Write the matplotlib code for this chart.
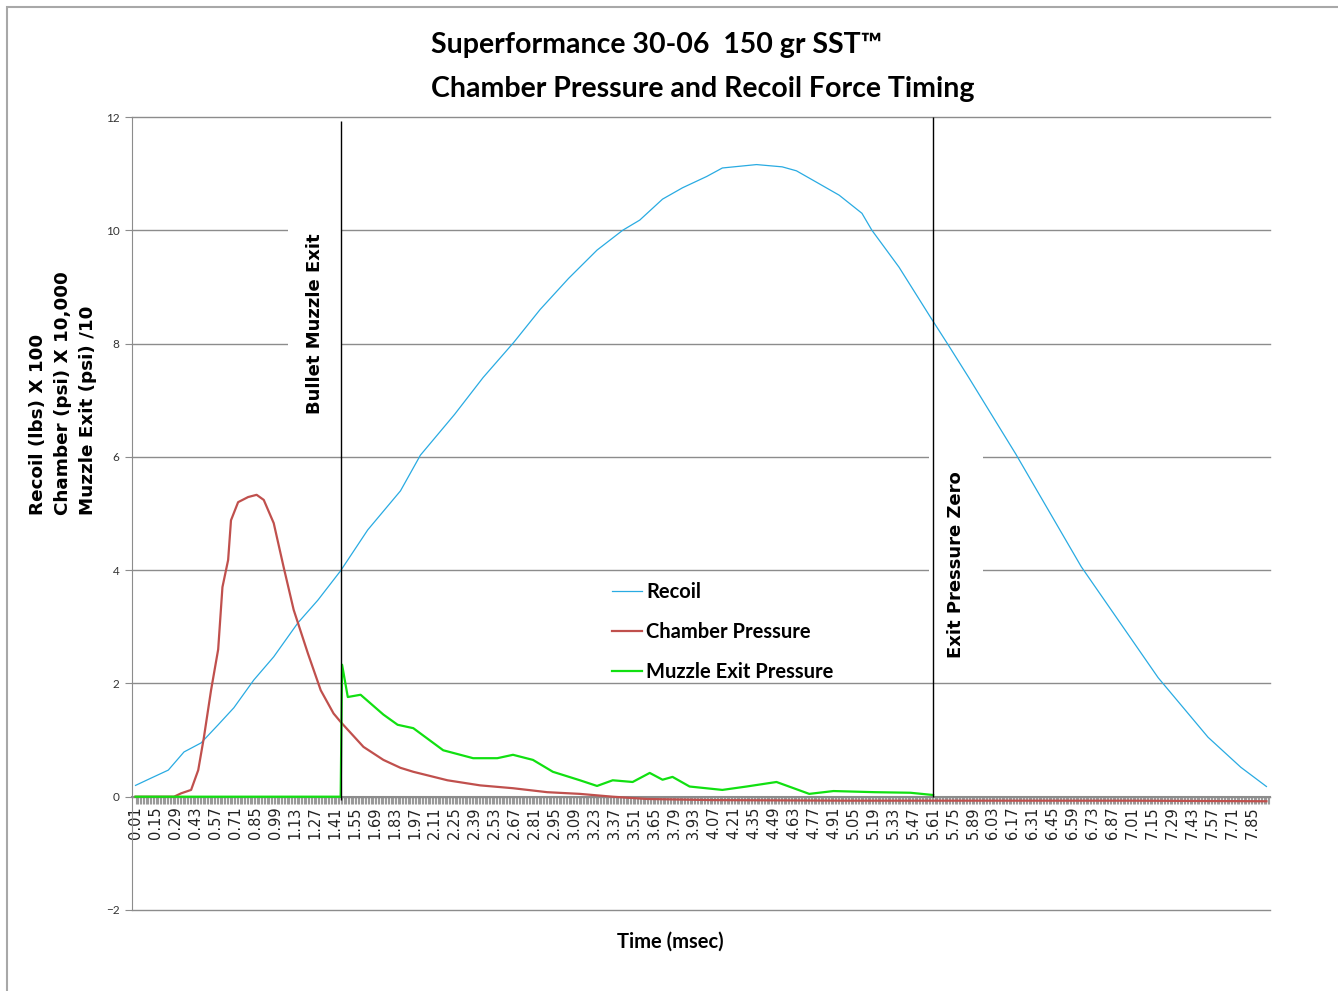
import matplotlib
matplotlib.use("Agg")
import matplotlib.pyplot as plt
from matplotlib.patches import Rectangle
from matplotlib.ticker import FixedLocator

# values (time in msec)
recoil_t = [0.01, 0.12, 0.24, 0.35, 0.47, 0.59, 0.70, 0.84, 0.98, 1.15, 1.29, 1.45,
            1.64, 1.87, 2.01, 2.25, 2.45, 2.665, 2.85, 3.05, 3.25, 3.43, 3.55, 3.71,
            3.85, 4.02, 4.13, 4.37, 4.55, 4.65, 4.79, 4.95, 5.11, 5.18, 5.37, 5.59,
            5.72, 5.86, 6.19, 6.65, 7.19, 7.54, 7.77, 7.95]
recoil_v = [0.20, 0.33, 0.47, 0.79, 0.95, 1.27, 1.57, 2.06, 2.47, 3.07, 3.47, 3.99,
            4.71, 5.40, 6.03, 6.75, 7.40, 8.02, 8.60, 9.15, 9.65, 10.00, 10.18, 10.55,
            10.75, 10.95, 11.10, 11.16, 11.12, 11.05, 10.85, 10.62, 10.30, 10.00, 9.35, 8.47,
            7.96, 7.40, 6.05, 4.06, 2.10, 1.05, 0.52, 0.18]

chamber_t = [0.01, 0.28, 0.33, 0.40, 0.45, 0.49, 0.54, 0.59, 0.62, 0.66, 0.68, 0.73,
             0.80, 0.86, 0.91, 0.98, 1.05, 1.12, 1.22, 1.31, 1.40, 1.45, 1.61, 1.75,
             1.87, 1.96, 2.20, 2.43, 2.66, 2.90, 3.13, 3.36, 3.60, 4.06, 5.00, 6.00,
             7.00, 7.95]
chamber_v = [0.00, 0.00, 0.06, 0.12, 0.47, 1.05, 1.88, 2.60, 3.70, 4.18, 4.88, 5.20,
             5.29, 5.33, 5.24, 4.83, 4.05, 3.30, 2.53, 1.88, 1.47, 1.32, 0.88, 0.65,
             0.51, 0.44, 0.29, 0.20, 0.15, 0.08, 0.05, 0.00, -0.04, -0.06, -0.07, -0.07,
             -0.07, -0.08]

muzzle_t = [0.01, 1.45, 1.46, 1.50, 1.59, 1.75, 1.85, 1.96, 2.17, 2.38, 2.55, 2.66,
            2.80, 2.94, 3.13, 3.25, 3.36, 3.50, 3.62, 3.71, 3.78, 3.90, 4.13, 4.30,
            4.51, 4.74, 4.91, 5.20, 5.45, 5.61]
muzzle_v = [0.00, 0.00, 2.33, 1.76, 1.80, 1.45, 1.27, 1.21, 0.82, 0.68, 0.68, 0.74,
            0.65, 0.44, 0.29, 0.19, 0.29, 0.26, 0.42, 0.30, 0.35, 0.18, 0.12, 0.18,
            0.26, 0.05, 0.10, 0.08, 0.07, 0.03]

muzzle_exit_time = 1.45
exit_zero_time = 5.61

# every category is 0.01 ms, label every 14th one
category_times = [round(0.01 * i, 2) for i in range(1, 798)]
label_times = category_times[::14]
label_text = ["%.2f" % t for t in label_times]
y_ticks = [-2, 0, 2, 4, 6, 8, 10, 12]

W, H = 1338, 991
fig = plt.figure(figsize=(W / 100, H / 100), dpi=100)
fig.patches.append(Rectangle((7 / W, -0.05), 1.2, 1.05 - 7 / H, transform=fig.transFigure,
                             fill=False, edgecolor="#a8a8a8", linewidth=1.5))

ax = fig.add_axes([132 / W, (H - 910) / H, (1270 - 132) / W, (910 - 117) / H])
ax.set_xlim(-0.015, 7.975)
ax.set_ylim(-2, 12)

ax.plot(recoil_t, recoil_v, color="#29abe2", lw=0.9, label="Recoil", zorder=3)
ax.plot(chamber_t, chamber_v, color="#c0504d", lw=1.6, label="Chamber Pressure", zorder=3)
ax.plot(muzzle_t, muzzle_v, color="#11e011", lw=1.6, label="Muzzle Exit Pressure", zorder=3)

ax.vlines(muzzle_exit_time, -0.06, 11.93, color="black", lw=1, zorder=5)
ax.vlines(exit_zero_time, 0, 12, color="black", lw=1, zorder=5)

box = dict(facecolor="white", edgecolor="none", boxstyle="square,pad=1.0")
ax.text(1.27, 8.35, "Bullet Muzzle Exit", rotation=90, ha="center", va="center",
        fontsize=13, weight="bold", family="DejaVu Sans", bbox=box, zorder=4)
ax.text(5.77, 4.09, "Exit Pressure Zero", rotation=90, ha="center", va="center",
        fontsize=13, weight="bold", family="DejaVu Sans", bbox=box, zorder=4)

# axes styling, Excel look
for s in ["top", "right"]:
    ax.spines[s].set_visible(False)
ax.spines["left"].set_color("#8c8c8c")
ax.spines["bottom"].set_position(("data", 0))
ax.spines["bottom"].set_color("#8c8c8c")
ax.spines["bottom"].set_linewidth(1.5)

ax.set_yticks(y_ticks)
ax.yaxis.grid(True, color="#8c8c8c", lw=1)
for g in ax.get_ygridlines():
    g.set_clip_on(False)
ax.set_axisbelow(True)
ax.tick_params(axis="y", direction="out", length=5, color="#8c8c8c", labelsize=8.5,
               labelcolor="#333333", pad=4)
for lab in ax.get_yticklabels():
    lab.set_family("Lato")

ax.xaxis.set_major_locator(FixedLocator(label_times))
ax.xaxis.set_minor_locator(FixedLocator(category_times))
ax.set_xticklabels(label_text, rotation=90, fontsize=10.5, color="#222222", family="DejaVu Sans")
ax.tick_params(axis="x", which="both", direction="out", length=5, color="#9a9a9a", width=0.8, pad=2)

leg = ax.legend(loc="center left", bbox_to_anchor=((612 - 132) / (1270 - 132), (910 - 632) / (910 - 117)),
                frameon=False, borderpad=0, borderaxespad=0, handlelength=1.5, handletextpad=0.2,
                labelspacing=0.98, prop={"family": "Lato", "weight": "bold", "size": 14.5})

fig.text(431 / W, 1 - 45 / H, "Superformance 30-06  150 gr SST\u2122", ha="left", va="center",
         fontsize=20.5, weight="bold", family=["Lato", "DejaVu Sans"])
fig.text(431 / W, 1 - 89 / H, "Chamber Pressure and Recoil Force Timing", ha="left", va="center",
         fontsize=20.5, weight="bold", family="Lato")

fig.text(670 / W, 1 - 942 / H, "Time (msec)", ha="center", va="center",
         fontsize=14.5, weight="bold", family="Lato")

ylines = ["Recoil (lbs) X 100", "Chamber (psi) X 10,000", "Muzzle Exit (psi) /10"]
for i, line in enumerate(ylines):
    fig.text((38 + 25 * i) / W, 1 - 515 / H, line, rotation=90, ha="center", va="bottom",
             fontsize=13.2, weight="bold", family="DejaVu Sans")

fig.savefig("out.png", dpi=100)
